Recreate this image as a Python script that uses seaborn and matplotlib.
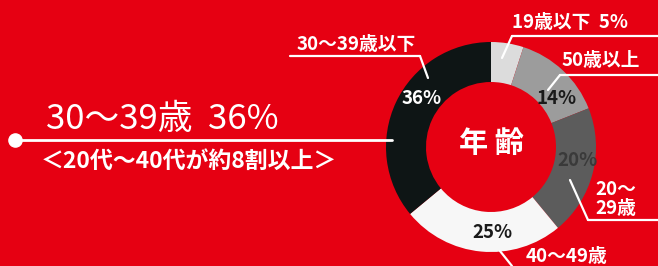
import matplotlib
matplotlib.use("Agg")
import matplotlib.pyplot as plt
import seaborn as sns

# データ
labels = ["19歳以下", "50歳以上", "20～29歳", "40～49歳", "30～39歳"]
shares = [5, 14, 20, 25, 36]
pct_text = ["", "14%", "20%", "25%", "36%"]

sns.set_theme(style="white")
plt.rcParams["font.family"] = ["Noto Sans CJK JP", "DejaVu Sans"]

RED = "#e60012"
ring_colors = ["#dcdcdc", "#9c9c9c", "#5c5c5c", "#f7f7f7", "#0e1515"]

W, H = 658, 266
fig = plt.figure(figsize=(W / 100, H / 100), dpi=100, facecolor=RED)
ax = fig.add_axes([0, 0, 1, 1])
ax.set_facecolor(RED)

def Y(py):
    # 画像のピクセルy座標 -> 上向き座標
    return H - py

cx, cy = 491, Y(147)
wedges, _ = ax.pie(shares, colors=ring_colors, startangle=90, counterclock=False,
                   center=(cx, cy), radius=105,
                   wedgeprops=dict(width=40, edgecolor="none"))

ax.set_xlim(0, W)
ax.set_ylim(0, H)
ax.set_aspect("equal")
ax.axis("off")

# 中央
ax.text(cx, Y(143), "年 齢", color="white", fontsize=21, fontweight="bold",
        ha="center", va="center")

# リング内の%表示
pct_pos = {"14%": (557, 98), "20%": (578, 160), "25%": (492, 232), "36%": (422, 98)}
pct_col = {"14%": "#1a1a1a", "20%": "#3a3a3a", "25%": "#1a1a1a", "36%": "white"}
for t in pct_text:
    if t:
        x, y = pct_pos[t]
        ax.text(x, Y(y), t, color=pct_col[t], fontsize=13.5, fontweight="bold",
                ha="center", va="center")

lw = 1.6
lab = dict(color="white", fontsize=13.5, fontweight="bold", va="center")
# 引き出し線とラベル
ax.plot([512, 658], [Y(36), Y(36)], color="white", lw=lw)
ax.plot([512, 502], [Y(36), Y(58)], color="white", lw=lw)
ax.text(512, Y(22), labels[0] + "  5%", ha="left", **lab)

ax.plot([560, 658], [Y(75), Y(75)], color="white", lw=lw)
ax.plot([560, 548], [Y(75), Y(90)], color="white", lw=lw)
ax.text(562, Y(61), labels[1], ha="left", **lab)

ax.plot([588, 658], [Y(220), Y(220)], color="white", lw=lw)
ax.plot([588, 570], [Y(220), Y(180)], color="white", lw=lw)
ax.text(595, Y(199), "20～\n29歳", ha="left", linespacing=1.0, **lab)

ax.plot([500, 512], [Y(251), Y(266)], color="white", lw=lw)
ax.text(526, Y(256), labels[3], ha="left", **lab)

ax.plot([290, 420], [Y(56), Y(56)], color="white", lw=lw)
ax.plot([420, 428], [Y(56), Y(78)], color="white", lw=lw)
ax.text(297, Y(44), "30～39歳以下", ha="left", **lab)

# 左側の見出し
ax.plot([15, 392], [Y(140), Y(140)], color="white", lw=2, zorder=1)
ax.scatter([15], [Y(140)], s=90, color="white", zorder=3)
ax.text(46, Y(120), "30～39歳  36%", color="white", fontsize=25,
        ha="left", va="center")
ax.text(41, Y(161), "＜20代～40代が約8割以上＞", color="white", fontsize=16.5,
        fontweight="bold", ha="left", va="center")

fig.savefig("out.png", dpi=100, facecolor=RED)
